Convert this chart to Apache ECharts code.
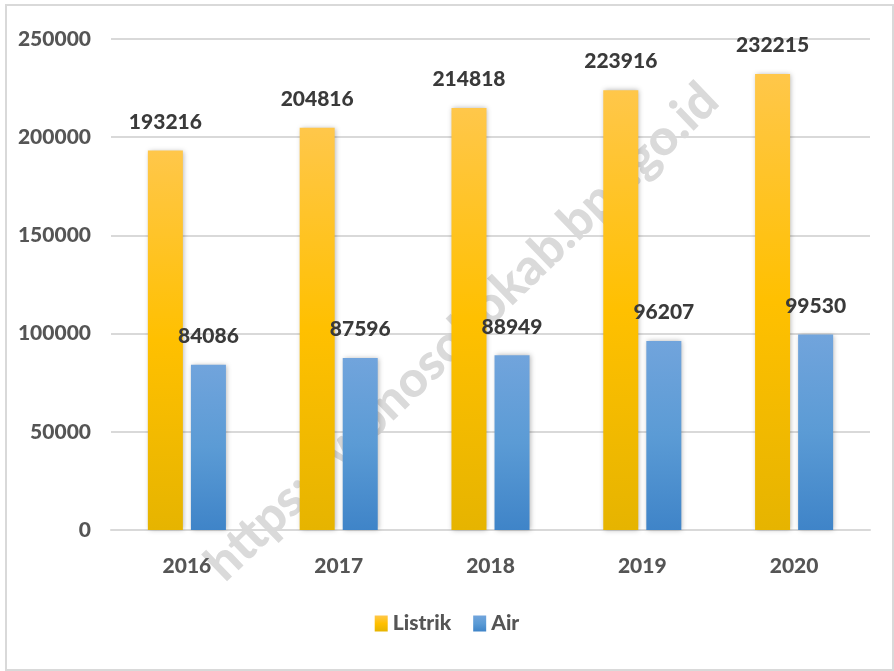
<!DOCTYPE html>
<html>
<head>
<meta charset="utf-8">
<script src="https://cdn.jsdelivr.net/npm/echarts@6/dist/echarts.min.js"></script>
<style>
  html, body { margin: 0; padding: 0; background: #fff; }
  #chart { width: 894px; height: 671px; }
</style>
</head>
<body>
<div id="chart"></div>
<script>
// data
var years = ['2016', '2017', '2018', '2019', '2020'];
var listrik = [193216, 204816, 214818, 223916, 232215];
var air = [84086, 87596, 88949, 96207, 99530];
var yTicks = [0, 50000, 100000, 150000, 200000, 250000];

var font = 'Lato, "Open Sans", sans-serif';

var chart = echarts.init(document.getElementById('chart'));

var gold = new echarts.graphic.LinearGradient(0, 0, 0, 1, [
  { offset: 0, color: '#FFC74A' },
  { offset: 0.5, color: '#FFC000' },
  { offset: 1, color: '#E6B400' }
]);
var blue = new echarts.graphic.LinearGradient(0, 0, 0, 1, [
  { offset: 0, color: '#71A4DC' },
  { offset: 0.5, color: '#5B9BD5' },
  { offset: 1, color: '#3F84C8' }
]);

var label = {
  show: true,
  position: 'top',
  distance: 18,
  color: '#3a3a3a',
  fontFamily: font,
  fontWeight: 900,
  fontSize: 21
};

chart.setOption({
  animation: false,
  textStyle: { fontFamily: font },
  graphic: [
    {
      type: 'rect',
      z: -20,
      shape: { x: 6, y: 5, width: 887, height: 665 },
      style: { fill: 'none', stroke: '#d9d9d9', lineWidth: 2 }
    },
    {
      type: 'text',
      z: -10,
      x: 462,
      y: 332,
      rotation: Math.PI * 44 / 180,
      style: {
        text: 'https://wonosobokab.bps.go.id',
        font: '900 50px Lato, sans-serif',
        fill: '#dadada',
        align: 'center',
        verticalAlign: 'middle'
      }
    }
  ],
  legend: {
    bottom: 32,
    left: 'center',
    itemWidth: 13,
    itemHeight: 16,
    itemGap: 22,
    icon: 'rect',
    textStyle: { color: '#555555', fontFamily: font, fontWeight: 900, fontSize: 21 },
    data: ['Listrik', 'Air']
  },
  grid: { left: 111, right: 24, top: 39, bottom: 141 },
  xAxis: {
    type: 'category',
    data: years,
    axisTick: { show: false },
    axisLine: { lineStyle: { color: '#d9d9d9', width: 2 } },
    axisLabel: { color: '#555555', fontFamily: font, fontWeight: 900, fontSize: 21, margin: 26 }
  },
  yAxis: {
    type: 'value',
    min: yTicks[0],
    max: yTicks[yTicks.length - 1],
    interval: 50000,
    axisLine: { show: false },
    axisTick: { show: false },
    splitLine: { lineStyle: { color: '#d9d9d9', width: 2 } },
    axisLabel: {
      color: '#555555', fontFamily: font, fontWeight: 900, fontSize: 21, margin: 20,
      formatter: function (v) { return String(v); }
    }
  },
  series: [
    {
      name: 'Listrik',
      type: 'bar',
      data: listrik,
      barWidth: 35,
      barGap: '23%',
      itemStyle: { color: gold, shadowBlur: 5, shadowColor: 'rgba(0,0,0,0.3)', shadowOffsetX: 1 },
      label: label
    },
    {
      name: 'Air',
      type: 'bar',
      data: air,
      barWidth: 35,
      itemStyle: { color: blue, shadowBlur: 5, shadowColor: 'rgba(0,0,0,0.3)', shadowOffsetX: 1 },
      label: label
    }
  ]
});
</script>
</body>
</html>
